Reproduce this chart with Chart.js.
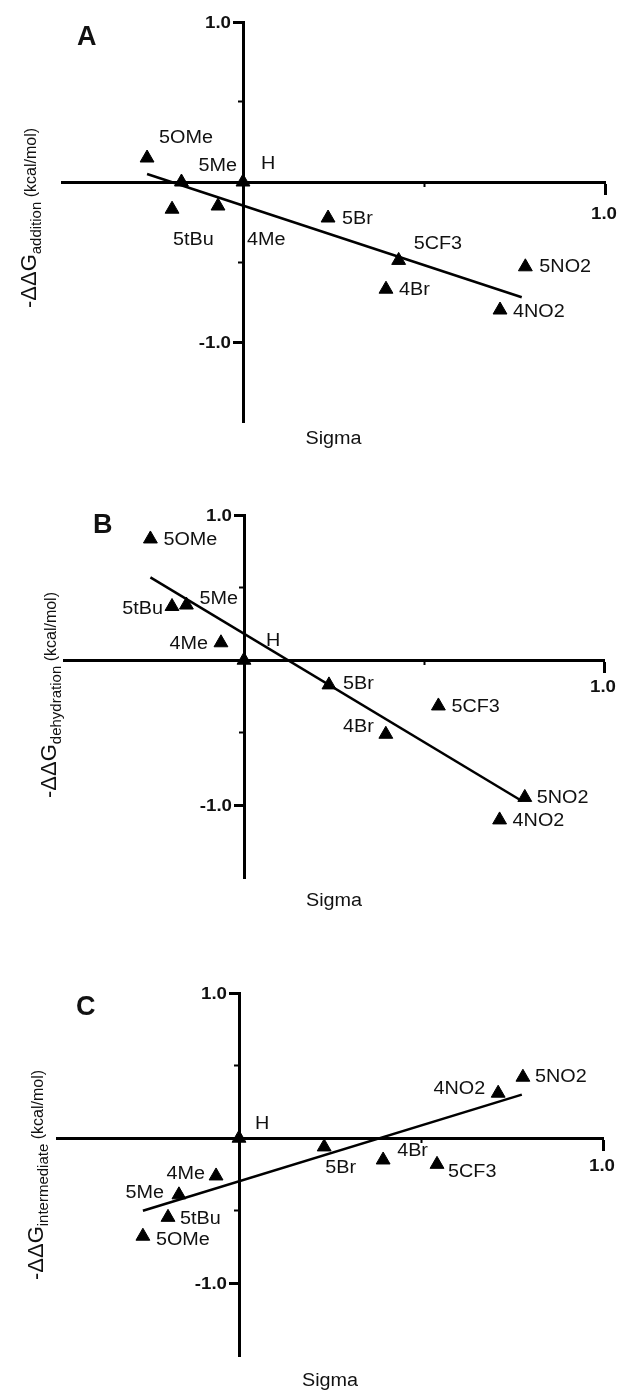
<!DOCTYPE html>
<html>
<head>
<meta charset="utf-8">
<title>Hammett plots</title>
<script src="https://cdn.jsdelivr.net/npm/chart.js"></script>
<style>
  html, body { margin: 0; padding: 0; background: #fff; }
  #wrap { position: relative; width: 619px; height: 1394px; overflow: hidden; }
  #wrap canvas { position: absolute; left: 0; }
</style>
</head>
<body>
<div id="wrap">
  <canvas id="chartA" width="619" height="465" style="top:0px"></canvas>
  <canvas id="chartB" width="619" height="465" style="top:465px"></canvas>
  <canvas id="chartC" width="619" height="464" style="top:930px"></canvas>
</div>
<script>
// substituents, same order in every panel
const substituents = ['5OMe', '5tBu', '5Me', '4Me', 'H', '5Br', '4Br', '5CF3', '4NO2', '5NO2'];

// Panel A - addition step
const sigmaA = [-0.265, -0.196, -0.17, -0.069, 0, 0.235, 0.395, 0.43, 0.71, 0.78];
const ddgAddition = [0.15, -0.17, 0.0, -0.15, 0, -0.225, -0.67, -0.49, -0.80, -0.53];
const fitSigmaA = [-0.265, 0.77];
const fitAddition = [0.05, -0.72];

// Panel B - dehydration step
const sigmaB = [-0.26, -0.20, -0.16, -0.064, 0, 0.236, 0.394, 0.54, 0.71, 0.78];
const ddgDehydration = [0.835, 0.37, 0.38, 0.12, 0, -0.17, -0.51, -0.315, -1.10, -0.945];
const fitSigmaB = [-0.26, 0.772];
const fitDehydration = [0.57, -0.97];

// Panel C - intermediate
const sigmaC = [-0.264, -0.195, -0.165, -0.063, 0, 0.234, 0.396, 0.544, 0.712, 0.78];
const ddgIntermediate = [-0.675, -0.545, -0.39, -0.26, 0, -0.06, -0.15, -0.18, 0.31, 0.42];
const fitSigmaC = [-0.264, 0.777];
const fitIntermediate = [-0.50, 0.30];

// axes (shared by the three panels)
const xRange = [-0.5, 1.0];
const yRange = [-1.5, 1.0];
const xMajorTicks = [1.0];
const xMinorTicks = [0.5];
const yMajorTicks = [-1.0, 1.0];
const yMinorTicks = [-0.5, 0.5];

const FONT = '"Liberation Sans", Arial, sans-serif';
const INK = '#111';

// label placement next to each triangle: [align, dx, dy] (style only)
const labelsA = {
    '5OMe': ['left', 12, -22], '5tBu': ['left', 1, 29], '5Me': ['left', 17, -18],
    '4Me': ['left', 29, 32], 'H': ['left', 18, -20], '5Br': ['left', 14, -1],
    '4Br': ['left', 13, -1], '5CF3': ['left', 15, -18], '4NO2': ['left', 13, 0],
    '5NO2': ['left', 14, -1]
};
const labelsB = {
    '5OMe': ['left', 13, 0], '5tBu': ['right', 9, 1], '5Me': ['left', 13, -8],
    '4Me': ['right', 13, 0], 'H': ['left', 22, -21], '5Br': ['left', 14, -2],
    '4Br': ['right', 12, -9], '5CF3': ['left', 13, 0], '4NO2': ['left', 13, 0],
    '5NO2': ['left', 12, -1]
};
const labelsC = {
    '5OMe': ['left', 13, 2], '5tBu': ['left', 12, 0], '5Me': ['right', 15, -3],
    '4Me': ['right', 11, -3], 'H': ['left', 16, -16], '5Br': ['left', 1, 20],
    '4Br': ['left', 14, -10], '5CF3': ['left', 11, 6], '4NO2': ['right', 13, -6],
    '5NO2': ['left', 12, -2]
};

function stretchText(ctx, text, x, y, font, align, sx) {
    ctx.save();
    ctx.translate(x, y);
    ctx.scale(sx, 1);
    ctx.font = font;
    ctx.textAlign = align;
    ctx.textBaseline = 'alphabetic';
    ctx.fillStyle = INK;
    ctx.fillText(text, 0, 0);
    ctx.restore();
}

// rotated y title: -ΔΔG with subscript, then (kcal/mol)
function drawYTitle(ctx, baseX, centerY, sub) {
    const parts = [
        {t: '-\u0394\u0394G', f: '22px ' + FONT, dy: 0},
        {t: sub, f: '15px ' + FONT, dy: 5},
        {t: ' (kcal/mol)', f: '16px ' + FONT, dy: 0}
    ];
    let total = 0;
    parts.forEach(p => { ctx.font = p.f; p.w = ctx.measureText(p.t).width; total += p.w; });
    ctx.save();
    ctx.translate(baseX, centerY);
    ctx.rotate(-Math.PI / 2);
    ctx.fillStyle = INK;
    ctx.textBaseline = 'alphabetic';
    ctx.textAlign = 'left';
    let pos = -total / 2;
    parts.forEach(p => {
        ctx.font = p.f;
        ctx.fillText(p.t, pos, p.dy);
        pos += p.w;
    });
    ctx.restore();
}

function textPlugin(cfg) {
    return {
        id: 'panelText' + cfg.letter,
        afterDraw(chart) {
            const ctx = chart.ctx;
            const xs = chart.scales.x, ys = chart.scales.y;
            const area = chart.chartArea;

            // panel letter
            stretchText(ctx, cfg.letter, cfg.letterX, cfg.letterY, 'bold 27px ' + FONT, 'left', 1);

            // tick labels
            const x0 = xs.getPixelForValue(0), y0 = ys.getPixelForValue(0);
            yMajorTicks.forEach(v => {
                stretchText(ctx, v.toFixed(1), x0 - 12, ys.getPixelForValue(v) + 6,
                    'bold 17px ' + FONT, 'right', 1.1);
            });
            xMajorTicks.forEach(v => {
                stretchText(ctx, v.toFixed(1), xs.getPixelForValue(v) - 1, y0 + cfg.xLabelDrop,
                    'bold 17px ' + FONT, 'center', 1.1);
            });

            // axis titles
            stretchText(ctx, 'Sigma', (area.left + area.right) / 2, cfg.sigmaY, '18px ' + FONT, 'center', 1.1);
            drawYTitle(ctx, cfg.titleX, cfg.titleY, cfg.sub);

            // point labels
            const meta = chart.getDatasetMeta(0);
            meta.data.forEach((pt, i) => {
                const name = substituents[i];
                const [align, dx, dy] = cfg.labels[name];
                const px = align === 'left' ? pt.x + dx : pt.x - dx;
                stretchText(ctx, name, px, pt.y + dy + 6.5, '18px ' + FONT, align, 1.1);
            });
        }
    };
}

function tickScale(axis, pos, ticks, len, width, withBorder) {
    return {
        type: 'linear',
        axis: axis,
        min: axis === 'x' ? xRange[0] : yRange[0],
        max: axis === 'x' ? xRange[1] : yRange[1],
        position: pos,
        border: {display: withBorder, color: '#000', width: 3},
        grid: {drawOnChartArea: false, drawTicks: true, tickLength: len, tickWidth: width, tickColor: '#000'},
        ticks: {display: false},
        afterBuildTicks: s => { s.ticks = ticks.map(v => ({value: v})); },
        afterFit: s => { if (axis === 'x') s.height = 0; else s.width = 0; }
    };
}

function makePanel(cfg) {
    const points = cfg.sigma.map((x, i) => ({x: x, y: cfg.ddg[i]}));
    const fit = cfg.fitX.map((x, i) => ({x: x, y: cfg.fitY[i]}));
    return new Chart(document.getElementById(cfg.canvas), {
        type: 'scatter',
        data: {
            datasets: [{
                label: 'data',
                data: points,
                pointStyle: 'triangle',
                pointRadius: 8,
                pointBackgroundColor: '#000',
                pointBorderColor: '#000',
                pointBorderWidth: 1,
                showLine: false
            }, {
                label: 'fit',
                data: fit,
                showLine: true,
                borderColor: '#000',
                borderWidth: 2.5,
                pointRadius: 0,
                fill: false
            }]
        },
        options: {
            responsive: false,
            animation: false,
            events: [],
            layout: {padding: cfg.padding},
            plugins: {legend: {display: false}, tooltip: {enabled: false}},
            scales: {
                x: tickScale('x', {y: 0}, xMajorTicks, 11, 3, true),
                xMinor: tickScale('x', {y: 0}, xMinorTicks, 5, 2, false),
                y: tickScale('y', {x: 0}, yMajorTicks, 9, 3, true),
                yMinor: tickScale('y', {x: 0}, yMinorTicks, 5, 2, false)
            }
        },
        plugins: [textPlugin(cfg)]
    });
}

makePanel({
    canvas: 'chartA', letter: 'A', sigma: sigmaA, ddg: ddgAddition,
    fitX: fitSigmaA, fitY: fitAddition, labels: labelsA, sub: 'addition',
    padding: {left: 62, right: 14, top: 22, bottom: 43},
    letterX: 77, letterY: 45, titleX: 36, titleY: 218, sigmaY: 444, xLabelDrop: 37
});
makePanel({
    canvas: 'chartB', letter: 'B', sigma: sigmaB, ddg: ddgDehydration,
    fitX: fitSigmaB, fitY: fitDehydration, labels: labelsB, sub: 'dehydration',
    padding: {left: 64, right: 15, top: 50, bottom: 52},
    letterX: 93, letterY: 68, titleX: 56, titleY: 230, sigmaY: 441, xLabelDrop: 32
});
makePanel({
    canvas: 'chartC', letter: 'C', sigma: sigmaC, ddg: ddgIntermediate,
    fitX: fitSigmaC, fitY: fitIntermediate, labels: labelsC, sub: 'intermediate',
    padding: {left: 57, right: 16, top: 63, bottom: 38},
    letterX: 76, letterY: 85, titleX: 43, titleY: 245, sigmaY: 456, xLabelDrop: 33
});
</script>
</body>
</html>
